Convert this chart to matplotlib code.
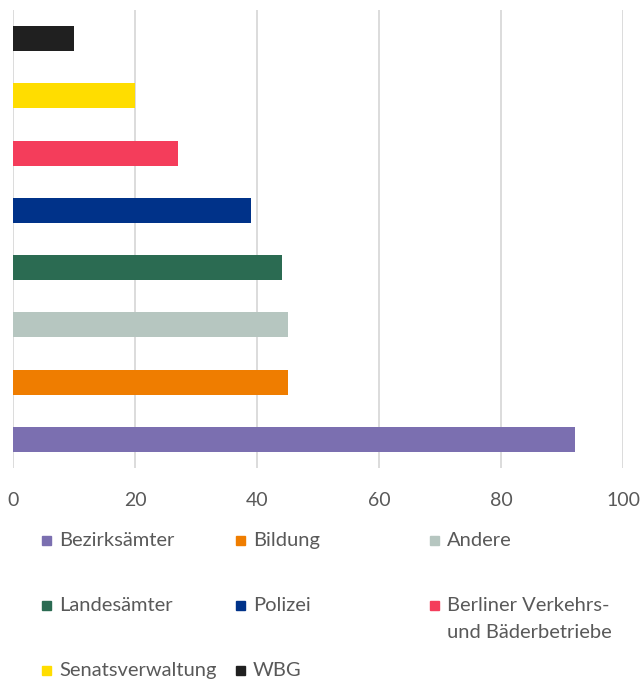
import matplotlib
matplotlib.use("Agg")
import matplotlib.pyplot as plt
from matplotlib.patches import Rectangle

# Data (bottom to top)
categories = ["Bezirksämter", "Bildung", "Andere", "Landesämter", "Polizei",
              "Berliner Verkehrs-\nund Bäderbetriebe", "Senatsverwaltung", "WBG"]
values = [92, 45, 45, 44, 39, 27, 20, 10]
colors = ["#7b6fb0", "#ef7d00", "#b6c6c0", "#2b6b52", "#003289",
          "#f43d5b", "#ffdd00", "#202020"]
x_ticks = [0, 20, 40, 60, 80, 100]

plt.rcParams["font.family"] = ["Lato", "DejaVu Sans"]

W, H = 642, 680
fig = plt.figure(figsize=(W / 100, H / 100), dpi=100)
ax = fig.add_axes([13.3 / W, 212 / H, 610 / W, 458 / H])

for i, (cat, v, c) in enumerate(zip(categories, values, colors)):
    ax.barh(i, v, height=0.44, color=c, label=cat, zorder=3)

ax.set_xlim(0, 100)
ax.set_ylim(-0.5, len(values) - 0.5)
ax.set_xticks(x_ticks)
ax.set_yticks([])
ax.grid(axis="x", color="#d9d9d9", linewidth=1.3, zorder=0)
for s in ax.spines.values():
    s.set_visible(False)
ax.tick_params(axis="x", length=0, pad=17, labelsize=14, labelcolor="#595959")

# Legend, three columns like Excel, rows filled left to right
col_x = [42, 236, 430]
row_y = [540, 605, 670]
for k in range(len(categories)):
    r, c = divmod(k, 3)
    px, py = col_x[c], row_y[r]
    fig.add_artist(Rectangle((px / W, (H - py - 4.5) / H), 9 / W, 9 / H,
                             transform=fig.transFigure, color=colors[k]))
    lines = categories[k].split("\n")
    for j, line in enumerate(lines):
        fig.text((px + 17) / W, (H - py - 6 - 27 * j) / H, line, fontsize=14.5,
                 color="#595959", ha="left", va="baseline")

fig.savefig("out.png", dpi=100)
